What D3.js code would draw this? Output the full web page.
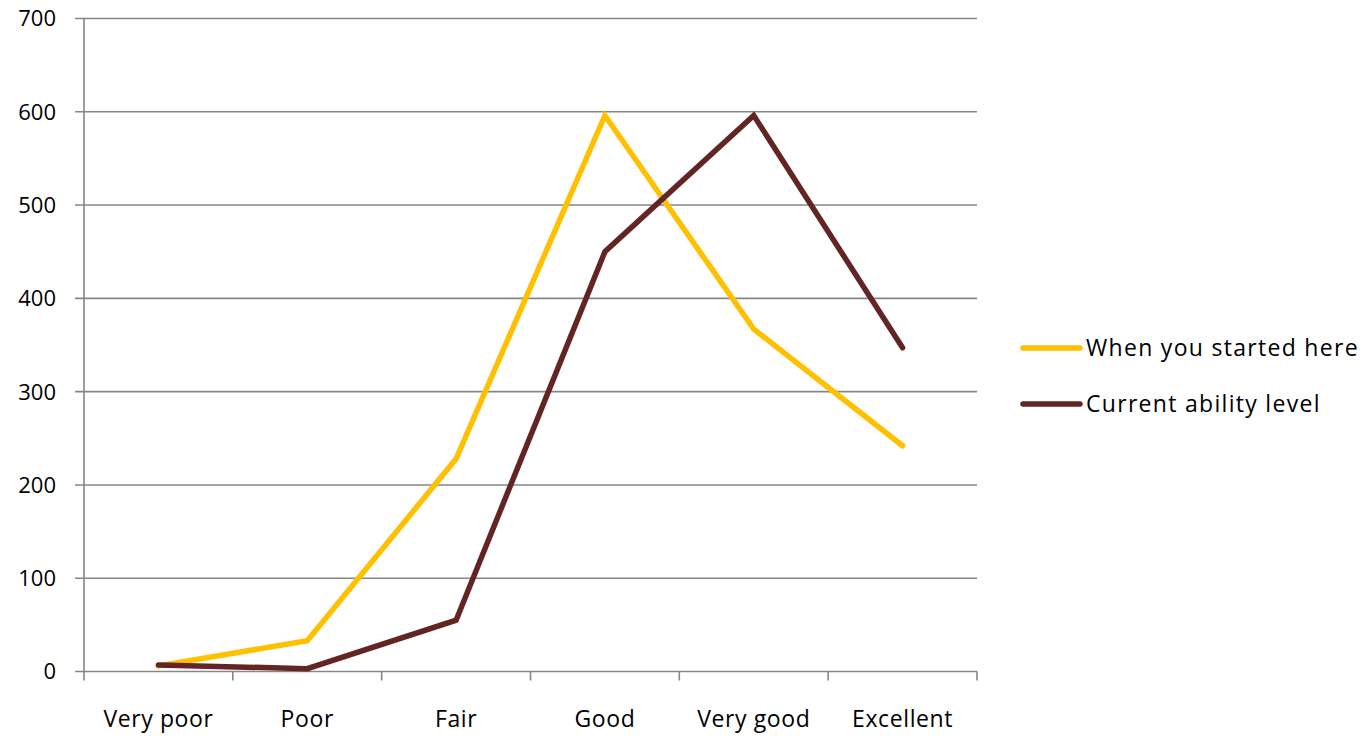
<!DOCTYPE html>
<html lang="en">
<head>
<meta charset="utf-8">
<title>Ability level</title>
<script src="https://cdn.jsdelivr.net/npm/d3@7"></script>
<style>
  body { margin: 0; background: #fff; }
  .tick-label, .legend-text { font-family: "Open Sans", "Liberation Sans", sans-serif; fill: #000; }
  .y-label { font-size: 22px; }
  .x-label { font-size: 23px; letter-spacing: 0.6px; }
  .legend-text { font-size: 23px; letter-spacing: 1.3px; }
  .grid line { stroke: #868686; stroke-width: 1.6; }
  .series { fill: none; stroke-width: 5.5; stroke-linejoin: miter; stroke-linecap: round; }
</style>
</head>
<body>
<div id="chart"></div>
<script>
// data
const categories = ["Very poor", "Poor", "Fair", "Good", "Very good", "Excellent"];
const startedHere = [6, 33, 228, 596, 367, 242];
const currentLevel = [7, 3, 55, 450, 596, 347];
const yTicks = [0, 100, 200, 300, 400, 500, 600, 700];
const seriesNames = ["When you started here", "Current ability level"];
const seriesColors = ["#FFC000", "#632523"];

const W = 1371, H = 736;
const plot = { left: 84, right: 977, top: 18.5, bottom: 671.5 };

const svg = d3.select("#chart").append("svg")
  .attr("width", W).attr("height", H);

const x = d3.scaleBand().domain(categories).range([plot.left, plot.right]);
const y = d3.scaleLinear().domain([0, 700]).range([plot.bottom, plot.top]);

// horizontal gridlines + y tick marks
const grid = svg.append("g").attr("class", "grid");
grid.selectAll("line.gl").data(yTicks).join("line")
  .attr("class", "gl")
  .attr("x1", plot.left - 9).attr("x2", plot.right)
  .attr("y1", d => y(d)).attr("y2", d => y(d));

// y axis line
grid.append("line")
  .attr("x1", plot.left).attr("x2", plot.left)
  .attr("y1", plot.top).attr("y2", plot.bottom);

// x tick marks at band edges
const edges = categories.map(c => x(c)).concat([plot.right]);
grid.selectAll("line.xt").data(edges).join("line")
  .attr("class", "xt")
  .attr("x1", d => d).attr("x2", d => d)
  .attr("y1", plot.bottom).attr("y2", plot.bottom + 9);

// y tick labels
svg.append("g").selectAll("text").data(yTicks).join("text")
  .attr("class", "tick-label y-label")
  .attr("x", 56).attr("y", d => y(d))
  .attr("dy", "0.36em")
  .attr("text-anchor", "end")
  .text(d => d);

// x tick labels
svg.append("g").selectAll("text").data(categories).join("text")
  .attr("class", "tick-label x-label")
  .attr("x", d => x(d) + x.bandwidth() / 2)
  .attr("y", 727)
  .attr("text-anchor", "middle")
  .text(d => d);

// lines
const line = d3.line()
  .x((d, i) => x(categories[i]) + x.bandwidth() / 2)
  .y(d => y(d));

[startedHere, currentLevel].forEach((vals, i) => {
  svg.append("path")
    .attr("class", "series")
    .attr("stroke", seriesColors[i])
    .attr("d", line(vals));
});

// legend
const legend = svg.append("g");
seriesNames.forEach((name, i) => {
  const ly = 348 + i * 56;
  legend.append("line")
    .attr("x1", 1023).attr("x2", 1080)
    .attr("y1", ly).attr("y2", ly)
    .attr("stroke", seriesColors[i])
    .attr("stroke-width", 5.5)
    .attr("stroke-linecap", "round");
  legend.append("text")
    .attr("class", "legend-text")
    .attr("x", 1086).attr("y", ly)
    .attr("dy", "0.36em")
    .text(name);
});
</script>
</body>
</html>
